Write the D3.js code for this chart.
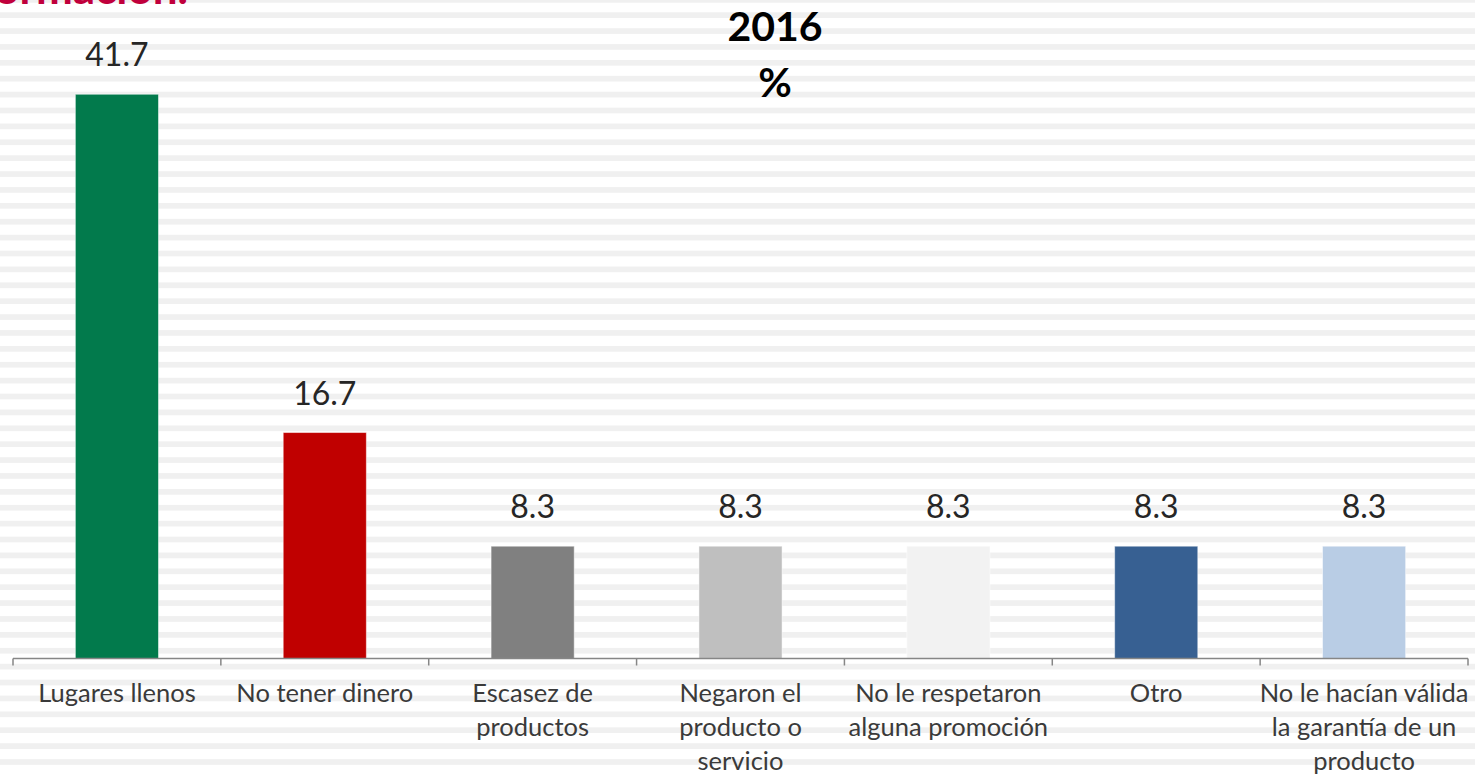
<!DOCTYPE html>
<html>
<head>
<meta charset="utf-8">
<script src="https://cdn.jsdelivr.net/npm/d3@7"></script>
<style>
  body { margin: 0; background: #fff; }
  svg { display: block; font-family: Lato, "Open Sans", sans-serif; }
</style>
</head>
<body>
<div id="chart"></div>
<script>
// data
var categories = ["Lugares llenos", "No tener dinero", "Escasez de\nproductos",
    "Negaron el\nproducto o\nservicio", "No le respetaron\nalguna promoción",
    "Otro", "No le hacían válida\nla garantía de un\nproducto"];
var values = [41.7, 16.7, 8.3, 8.3, 8.3, 8.3, 8.3];
var barColors = ["#027a4c", "#c00000", "#808080", "#bfbfbf", "#f2f2f2", "#376092", "#b9cde5"];
var titleLines = ["2016", "%"];

var width = 1475,
    height = 775;

var svg = d3.select("#chart").append("svg")
    .attr("width", width)
    .attr("height", height);

// striped slide background
var stripes = d3.range(-4, height, 15.89);
svg.selectAll("rect.stripe")
    .data(stripes)
  .enter().append("rect")
    .attr("class", "stripe")
    .attr("x", 0)
    .attr("y", function(d) { return d + 16.3; })
    .attr("width", width)
    .attr("height", 5.7)
    .attr("fill", "#f0f0f0");
svg.append("rect").attr("x", 0).attr("y", -4).attr("width", width).attr("height", 6.7).attr("fill", "#f0f0f0");

// cut-off slide heading at the very top
svg.append("text")
    .attr("x", 188)
    .attr("y", 3.5)
    .attr("text-anchor", "end")
    .attr("font-size", 44)
    .attr("font-weight", "bold")
    .attr("fill", "#c0003c")
    .text("información.");

var x = d3.scaleBand()
    .domain(categories)
    .range([13, 1468])
    .paddingInner(0.6)
    .paddingOuter(0.3);

var y = d3.scaleLinear()
    .domain([0, 45])
    .range([658.5, 49.6]);

// bars
svg.selectAll("rect.bar")
    .data(values)
  .enter().append("rect")
    .attr("class", "bar")
    .attr("x", function(d, i) { return x(categories[i]); })
    .attr("y", function(d) { return y(d); })
    .attr("width", x.bandwidth())
    .attr("height", function(d) { return y(0) - y(d); })
    .attr("fill", function(d, i) { return barColors[i]; })
    .attr("stroke", "#ffffff")
    .attr("stroke-opacity", 0.5)
    .attr("stroke-width", 1);

// value labels
svg.selectAll("text.val")
    .data(values)
  .enter().append("text")
    .attr("class", "val")
    .attr("x", function(d, i) { return x(categories[i]) + x.bandwidth() / 2; })
    .attr("y", function(d) { return y(d) - 28; })
    .attr("text-anchor", "middle")
    .attr("font-size", 32)
    .attr("fill", "#262626")
    .text(function(d) { return d.toFixed(1); });

// x axis: line plus ticks between categories
var axis = svg.append("g").attr("class", "axis");
axis.append("line")
    .attr("x1", x.range()[0]).attr("x2", x.range()[1])
    .attr("y1", y(0)).attr("y2", y(0))
    .attr("stroke", "#868686")
    .attr("stroke-width", 1.5);

var tickPos = d3.range(categories.length + 1).map(function(i) {
  return x.range()[0] + i * x.step();
});
axis.selectAll("line.tick")
    .data(tickPos)
  .enter().append("line")
    .attr("class", "tick")
    .attr("x1", function(d) { return d; })
    .attr("x2", function(d) { return d; })
    .attr("y1", y(0))
    .attr("y2", y(0) + 7)
    .attr("stroke", "#868686")
    .attr("stroke-width", 1.5);

// category labels, wrapped as in the original
var lab = svg.selectAll("text.cat")
    .data(categories)
  .enter().append("text")
    .attr("class", "cat")
    .attr("text-anchor", "middle")
    .attr("font-size", 25.5)
    .attr("fill", "#3a3a3a");

lab.each(function(d) {
  var t = d3.select(this);
  var cx = x(d) + x.bandwidth() / 2;
  d.split("\n").forEach(function(line, j) {
    t.append("tspan")
        .attr("x", cx)
        .attr("y", 701.5 + j * 34)
        .text(line);
  });
});

// title
svg.selectAll("text.title")
    .data(titleLines)
  .enter().append("text")
    .attr("class", "title")
    .attr("x", 775)
    .attr("y", function(d, i) { return 40.7 + i * 56; })
    .attr("text-anchor", "middle")
    .attr("font-size", 41)
    .attr("font-weight", "bold")
    .attr("fill", "#000")
    .text(function(d) { return d; });
</script>
</body>
</html>
